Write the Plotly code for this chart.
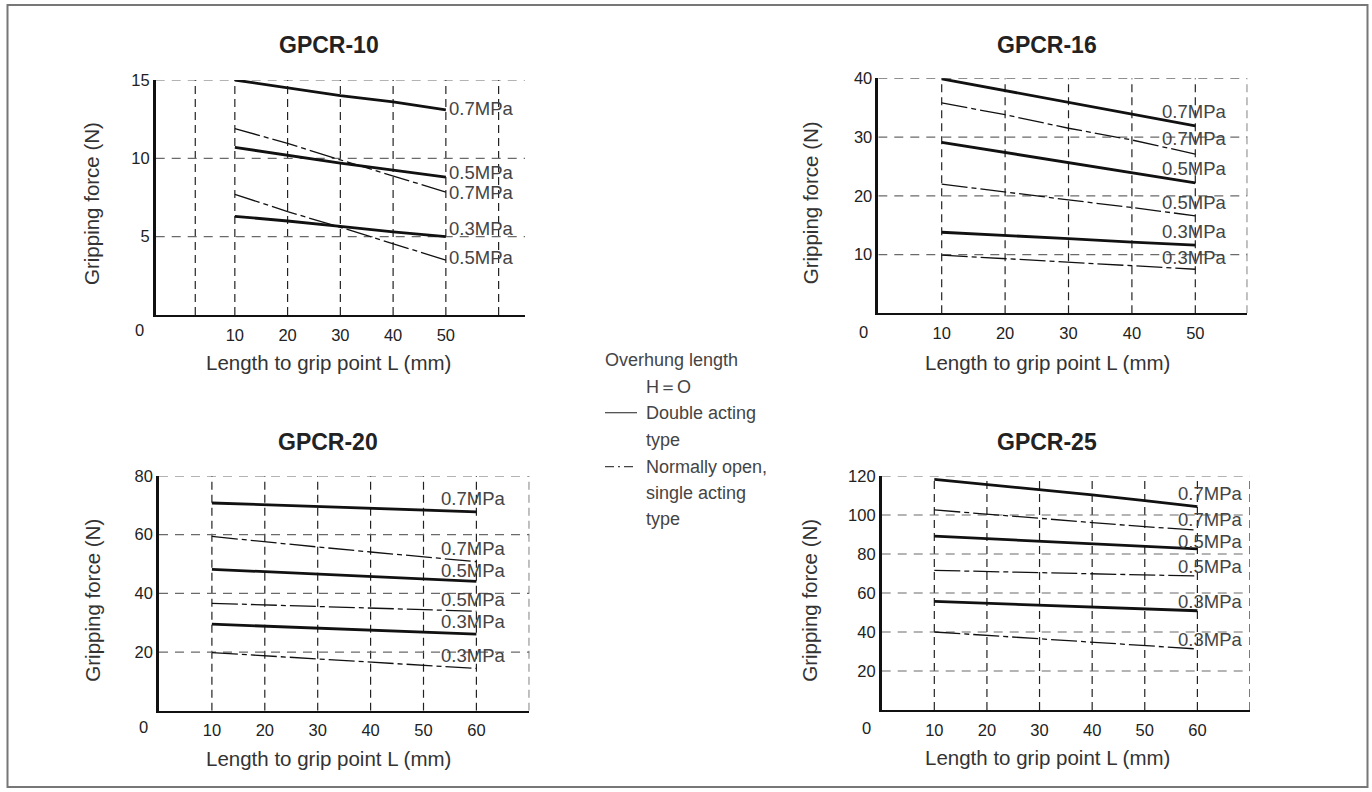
import plotly.graph_objects as go

W, H = 1372, 792

# ---------------- data ----------------
L_short = [10, 20, 30, 40, 50]          # GPCR-10, GPCR-16
L_long = [10, 20, 30, 40, 50, 60]       # GPCR-20, GPCR-25

# GPCR-10
g10_double_07 = [15.0, 14.5, 14.0, 13.6, 13.1]
g10_double_05 = [10.7, 10.2, 9.7, 9.25, 8.8]
g10_double_03 = [6.3, 6.0, 5.65, 5.3, 5.0]
g10_single_07 = [11.9, 10.95, 9.9, 8.85, 7.85]
g10_single_05 = [7.7, 6.6, 5.6, 4.55, 3.5]

# GPCR-16
g16_double_07 = [39.9, 37.9, 35.9, 34.0, 31.9]
g16_double_05 = [29.1, 27.4, 25.7, 24.0, 22.2]
g16_double_03 = [13.8, 13.3, 12.7, 12.1, 11.6]
g16_single_07 = [35.8, 33.8, 31.5, 29.5, 27.1]
g16_single_05 = [22.0, 20.6, 19.3, 18.0, 16.6]
g16_single_03 = [9.9, 9.3, 8.8, 8.2, 7.5]

# GPCR-20
g20_double_07 = [70.8, 70.2, 69.6, 69.0, 68.4, 67.8]
g20_double_05 = [48.2, 47.4, 46.6, 45.7, 44.9, 44.1]
g20_double_03 = [29.5, 28.8, 28.2, 27.5, 26.8, 26.1]
g20_single_07 = [59.4, 57.5, 55.8, 54.1, 52.5, 50.8]
g20_single_05 = [36.6, 36.1, 35.5, 35.0, 34.4, 33.9]
g20_single_03 = [19.8, 18.7, 17.7, 16.6, 15.5, 14.4]

# GPCR-25
g25_double_07 = [118.3, 115.7, 113.1, 110.3, 107.4, 104.3]
g25_double_05 = [89.2, 87.9, 86.6, 85.2, 83.9, 82.6]
g25_double_03 = [55.7, 54.8, 53.8, 52.9, 51.9, 50.9]
g25_single_07 = [102.6, 100.3, 98.3, 96.1, 94.0, 92.3]
g25_single_05 = [71.6, 71.0, 70.4, 69.9, 69.3, 68.7]
g25_single_03 = [40.0, 38.3, 36.6, 34.8, 33.0, 31.3]

titles = ["GPCR-10", "GPCR-16", "GPCR-20", "GPCR-25"]
x_title = "Length to grip point L (mm)"
y_title = "Gripping force (N)"

# ---------------- layout helpers ----------------
def px(x):
    return x / W

def py(y):
    return 1 - y / H

FONT = "Liberation Sans, Arial, sans-serif"
SOLID_W = 2.8
DASH_W = 1.3
DASH_STYLE = "26px,4px,5px,4px"

panels = [
    dict(name="1", px_box=(155.7, 525.0, 80.0, 315.0), xr=[-5, 65], yr=[0, 15],
         xticks=[10, 20, 30, 40, 50], yticks=[5, 10, 15],
         vgrid=[2.5, 10, 20, 30, 40, 50, 60], hgrid=[5, 10, 15],
         L=L_short,
         series=[(g10_double_07, "solid"), (g10_double_05, "solid"), (g10_double_03, "solid"),
                 (g10_single_07, "dash"), (g10_single_05, "dash")],
         labels=["0.7MPa", "0.5MPa", "0.7MPa", "0.3MPa", "0.5MPa"],
         label_y=[13.15, 9.08, 7.85, 5.55, 3.64], label_x=50.2,
         title_c=(328.5, 45), xt_c=(328, 362), yt_c=(91.7, 203.3), zero=(139, 330)),
    dict(name="2", px_box=(878.3, 1247.3, 78.3, 313.3), xr=[0, 58.2], yr=[0, 40],
         xticks=[10, 20, 30, 40, 50], yticks=[10, 20, 30, 40],
         vgrid=[10, 20, 30, 40, 50, 58.2], hgrid=[10, 20, 30, 40],
         L=L_short,
         series=[(g16_double_07, "solid"), (g16_double_05, "solid"), (g16_double_03, "solid"),
                 (g16_single_07, "dash"), (g16_single_05, "dash"), (g16_single_03, "dash")],
         labels=["0.7MPa", "0.7MPa", "0.5MPa", "0.5MPa", "0.3MPa", "0.3MPa"],
         label_y=[34.4, 29.7, 24.7, 18.8, 14.0, 9.5], label_x=44.4,
         title_c=(1047, 45), xt_c=(1047, 362), yt_c=(810, 203.3), zero=(863.3, 331.7)),
    dict(name="3", px_box=(159.0, 529.3, 476.0, 710.7), xr=[0, 70], yr=[0, 80],
         xticks=[10, 20, 30, 40, 50, 60], yticks=[20, 40, 60, 80],
         vgrid=[10, 20, 30, 40, 50, 60, 70], hgrid=[20, 40, 60, 80],
         L=L_long,
         series=[(g20_double_07, "solid"), (g20_double_05, "solid"), (g20_double_03, "solid"),
                 (g20_single_07, "dash"), (g20_single_05, "dash"), (g20_single_03, "dash")],
         labels=["0.7MPa", "0.7MPa", "0.5MPa", "0.5MPa", "0.3MPa", "0.3MPa"],
         label_y=[72.2, 55.3, 47.8, 37.9, 30.3, 18.8], label_x=53.0,
         title_c=(328, 441.7), xt_c=(328, 758), yt_c=(91.7, 600), zero=(143.3, 727.3)),
    dict(name="4", px_box=(881.7, 1250.0, 476.0, 710.0), xr=[0, 70], yr=[0, 120],
         xticks=[10, 20, 30, 40, 50, 60], yticks=[20, 40, 60, 80, 100, 120],
         vgrid=[10, 20, 30, 40, 50, 60, 70], hgrid=[20, 40, 60, 80, 100, 120],
         L=L_long,
         series=[(g25_double_07, "solid"), (g25_double_05, "solid"), (g25_double_03, "solid"),
                 (g25_single_07, "dash"), (g25_single_05, "dash"), (g25_single_03, "dash")],
         labels=["0.7MPa", "0.7MPa", "0.5MPa", "0.5MPa", "0.3MPa", "0.3MPa"],
         label_y=[111.1, 97.6, 86.6, 73.5, 55.5, 36.3], label_x=55.9,
         title_c=(1047.3, 441.7), xt_c=(1047.3, 757), yt_c=(810, 600.8), zero=(866, 728.3)),
]

fig = go.Figure()
shapes = []
annotations = []
layout_axes = {}

for p in panels:
    n = p["name"]
    xa = "x" if n == "1" else "x" + n
    ya = "y" if n == "1" else "y" + n
    xkey = "xaxis" if n == "1" else "xaxis" + n
    ykey = "yaxis" if n == "1" else "yaxis" + n
    x0, x1, y0, y1 = p["px_box"]

    # grid lines (drawn below traces)
    for gx in p["vgrid"]:
        shapes.append(dict(type="line", xref=xa, yref=ya, x0=gx, x1=gx, y0=p["yr"][0], y1=p["yr"][1],
                           line=dict(color="#222", width=1.2, dash="8px,5px"), layer="below"))
    for gy in p["hgrid"]:
        shapes.append(dict(type="line", xref=xa, yref=ya, x0=p["xr"][0], x1=p["xr"][1], y0=gy, y1=gy,
                           line=dict(color="#6a6a6a", width=1.2, dash="9px,7px"), layer="below"))

    for vals, style in p["series"]:
        fig.add_trace(go.Scatter(
            x=p["L"], y=vals, mode="lines", xaxis=xa, yaxis=ya, showlegend=False,
            line=dict(color="#111", width=SOLID_W if style == "solid" else DASH_W,
                      dash="solid" if style == "solid" else DASH_STYLE),
            hoverinfo="skip"))

    layout_axes[xkey] = dict(domain=[px(x0), px(x1)], range=p["xr"], anchor=ya,
                             tickvals=p["xticks"], ticks="", showgrid=False, zeroline=False,
                             showline=True, linecolor="#111", linewidth=1.6,
                             tickfont=dict(family=FONT, size=16.5, color="#222"),
                             ticklabelstandoff=4, fixedrange=True, automargin=False)
    layout_axes[ykey] = dict(domain=[py(y1), py(y0)], range=p["yr"], anchor=xa,
                             tickvals=p["yticks"], ticks="", showgrid=False, zeroline=False,
                             showline=True, linecolor="#111", linewidth=2.5,
                             tickfont=dict(family=FONT, size=16.5, color="#222"),
                             ticklabelstandoff=0, fixedrange=True, automargin=False)

    # pressure labels
    for txt, ly in zip(p["labels"], p["label_y"]):
        annotations.append(dict(text=txt, x=p["label_x"], y=ly, xref=xa, yref=ya, xanchor="left",
                                yanchor="middle", showarrow=False,
                                font=dict(family=FONT, size=18.5, color="#444")))
    # titles
    annotations.append(dict(text="<b>%s</b>" % titles[int(n) - 1], x=px(p["title_c"][0]), y=py(p["title_c"][1]),
                            xref="paper", yref="paper", xanchor="center", yanchor="middle", showarrow=False,
                            font=dict(family=FONT, size=23, color="#222")))
    annotations.append(dict(text=x_title, x=px(p["xt_c"][0]), y=py(p["xt_c"][1]),
                            xref="paper", yref="paper", xanchor="center", yanchor="middle", showarrow=False,
                            font=dict(family=FONT, size=20.5, color="#333")))
    annotations.append(dict(text=y_title, x=px(p["yt_c"][0]), y=py(p["yt_c"][1]), textangle=-90,
                            xref="paper", yref="paper", xanchor="center", yanchor="middle", showarrow=False,
                            font=dict(family=FONT, size=20.5, color="#333")))
    annotations.append(dict(text="0", x=px(p["zero"][0]), y=py(p["zero"][1]),
                            xref="paper", yref="paper", xanchor="center", yanchor="middle", showarrow=False,
                            font=dict(family=FONT, size=16.5, color="#222")))

# legend (drawn as text + sample lines)
LEG_FONT = dict(family=FONT, size=18, color="#444")
legend_rows = [
    ("Overhung length", 603.3, 360),
    ("H＝O", 644, 386.7),
    ("Double acting", 644, 412.7),
    ("type", 644, 440),
    ("Normally open,", 644, 466.7),
    ("single acting", 644, 493),
    ("type", 644, 519),
]
for txt, lx, ly in legend_rows:
    annotations.append(dict(text=txt, x=px(lx), y=py(ly), xref="paper", yref="paper",
                            xanchor="left", yanchor="middle", showarrow=False, font=LEG_FONT))
shapes.append(dict(type="line", xref="paper", yref="paper", x0=px(605), x1=px(637), y0=py(412.7), y1=py(412.7),
                   line=dict(color="#444", width=1.2)))
shapes.append(dict(type="line", xref="paper", yref="paper", x0=px(605), x1=px(637), y0=py(466.7), y1=py(466.7),
                   line=dict(color="#444", width=1.2, dash="9px,4px,2px,4px")))

# outer frame
shapes.append(dict(type="rect", xref="paper", yref="paper", x0=px(7.5), x1=px(1367.5), y0=py(787), y1=py(5),
                   line=dict(color="#777", width=2)))

fig.update_layout(
    width=W, height=H, margin=dict(l=0, r=0, t=0, b=0, pad=0, autoexpand=False),
    paper_bgcolor="white", plot_bgcolor="white",
    shapes=shapes, annotations=annotations, showlegend=False,
    **layout_axes,
)

post = (
    "document.documentElement.style.margin='0';document.documentElement.style.padding='0';"
    "document.documentElement.style.overflow='hidden';"
    "document.body.style.margin='0';document.body.style.padding='0';"
    "document.body.style.overflow='hidden';"
    "var gd=document.getElementById('{plot_id}');"
    "gd.style.position='fixed';gd.style.top='0px';gd.style.left='0px';"
)

fig.write_html("out.html", config={"displayModeBar": False}, post_script=post)
